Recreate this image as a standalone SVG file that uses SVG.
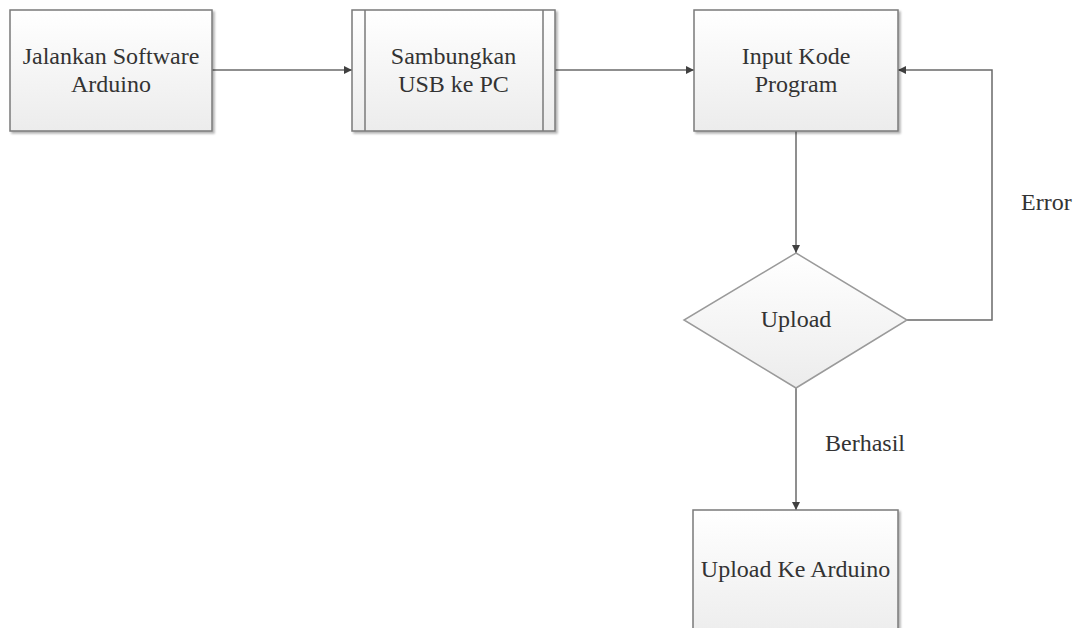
<svg xmlns="http://www.w3.org/2000/svg" width="1083" height="628" viewBox="0 0 1083 628">
<defs>
<linearGradient id="g" x1="0" y1="0" x2="0" y2="1">
<stop offset="0" stop-color="#ffffff"/>
<stop offset="1" stop-color="#ececec"/>
</linearGradient>
<marker id="arr" viewBox="0 0 10 10" refX="10" refY="5" markerWidth="8" markerHeight="8" markerUnits="userSpaceOnUse" orient="auto">
<path d="M0,0 L10,5 L0,10 z" fill="#404040"/>
</marker>
<filter id="sh" x="-5%" y="-5%" width="115%" height="115%">
<feGaussianBlur in="SourceAlpha" stdDeviation="1.2"/>
<feOffset dx="1.5" dy="1.5" result="b"/>
<feComponentTransfer><feFuncA type="linear" slope="0.3"/></feComponentTransfer>
<feMerge><feMergeNode/><feMergeNode in="SourceGraphic"/></feMerge>
</filter>
</defs>
<style>
.box{fill:url(#g);stroke:#7a7a7a;stroke-width:1.5;filter:url(#sh)}
.dia{fill:url(#g);stroke:#9a9a9a;stroke-width:1.5}
.ln{fill:none;stroke:#6a6a6a;stroke-width:1.5}
.t{font-family:"Liberation Serif","Times New Roman",serif;font-size:24px;fill:#333333;text-anchor:middle}
.l{font-family:"Liberation Serif","Times New Roman",serif;font-size:24px;fill:#333333}
</style>
<rect width="1083" height="628" fill="#ffffff"/>
<g id="connectors">
<line class="ln" x1="212" y1="70" x2="352" y2="70" marker-end="url(#arr)"/>
<line class="ln" x1="555" y1="70" x2="694" y2="70" marker-end="url(#arr)"/>
<line class="ln" x1="796" y1="131" x2="796" y2="253" marker-end="url(#arr)"/>
<polyline class="ln" points="907,320 992,320 992,70 898,70" marker-end="url(#arr)"/>
<line class="ln" x1="796" y1="388" x2="796" y2="510" marker-end="url(#arr)"/>
<text class="l" x="1021" y="210">Error</text>
<text class="l" x="825" y="451">Berhasil</text>
</g>
<g id="n1">
<rect class="box" x="10" y="10" width="202" height="121"/>
<text class="t" x="111" y="64">Jalankan Software</text>
<text class="t" x="111" y="92">Arduino</text>
</g>
<g id="n2">
<rect class="box" x="352" y="10" width="203" height="121"/>
<line x1="365" y1="10" x2="365" y2="131" stroke="#7a7a7a" stroke-width="1.5"/>
<line x1="543" y1="10" x2="543" y2="131" stroke="#7a7a7a" stroke-width="1.5"/>
<text class="t" x="453.5" y="64">Sambungkan</text>
<text class="t" x="453.5" y="92">USB ke PC</text>
</g>
<g id="n3">
<rect class="box" x="694" y="10" width="204" height="121"/>
<text class="t" x="796" y="64">Input Kode</text>
<text class="t" x="796" y="92">Program</text>
</g>
<g id="n4">
<polygon class="dia" points="796,253 907,320 796,388 684,320"/>
<text class="t" x="796" y="327">Upload</text>
</g>
<g id="n5">
<rect class="box" x="693" y="510" width="205" height="130"/>
<text class="t" x="795.5" y="577">Upload Ke Arduino</text>
</g>
</svg>
